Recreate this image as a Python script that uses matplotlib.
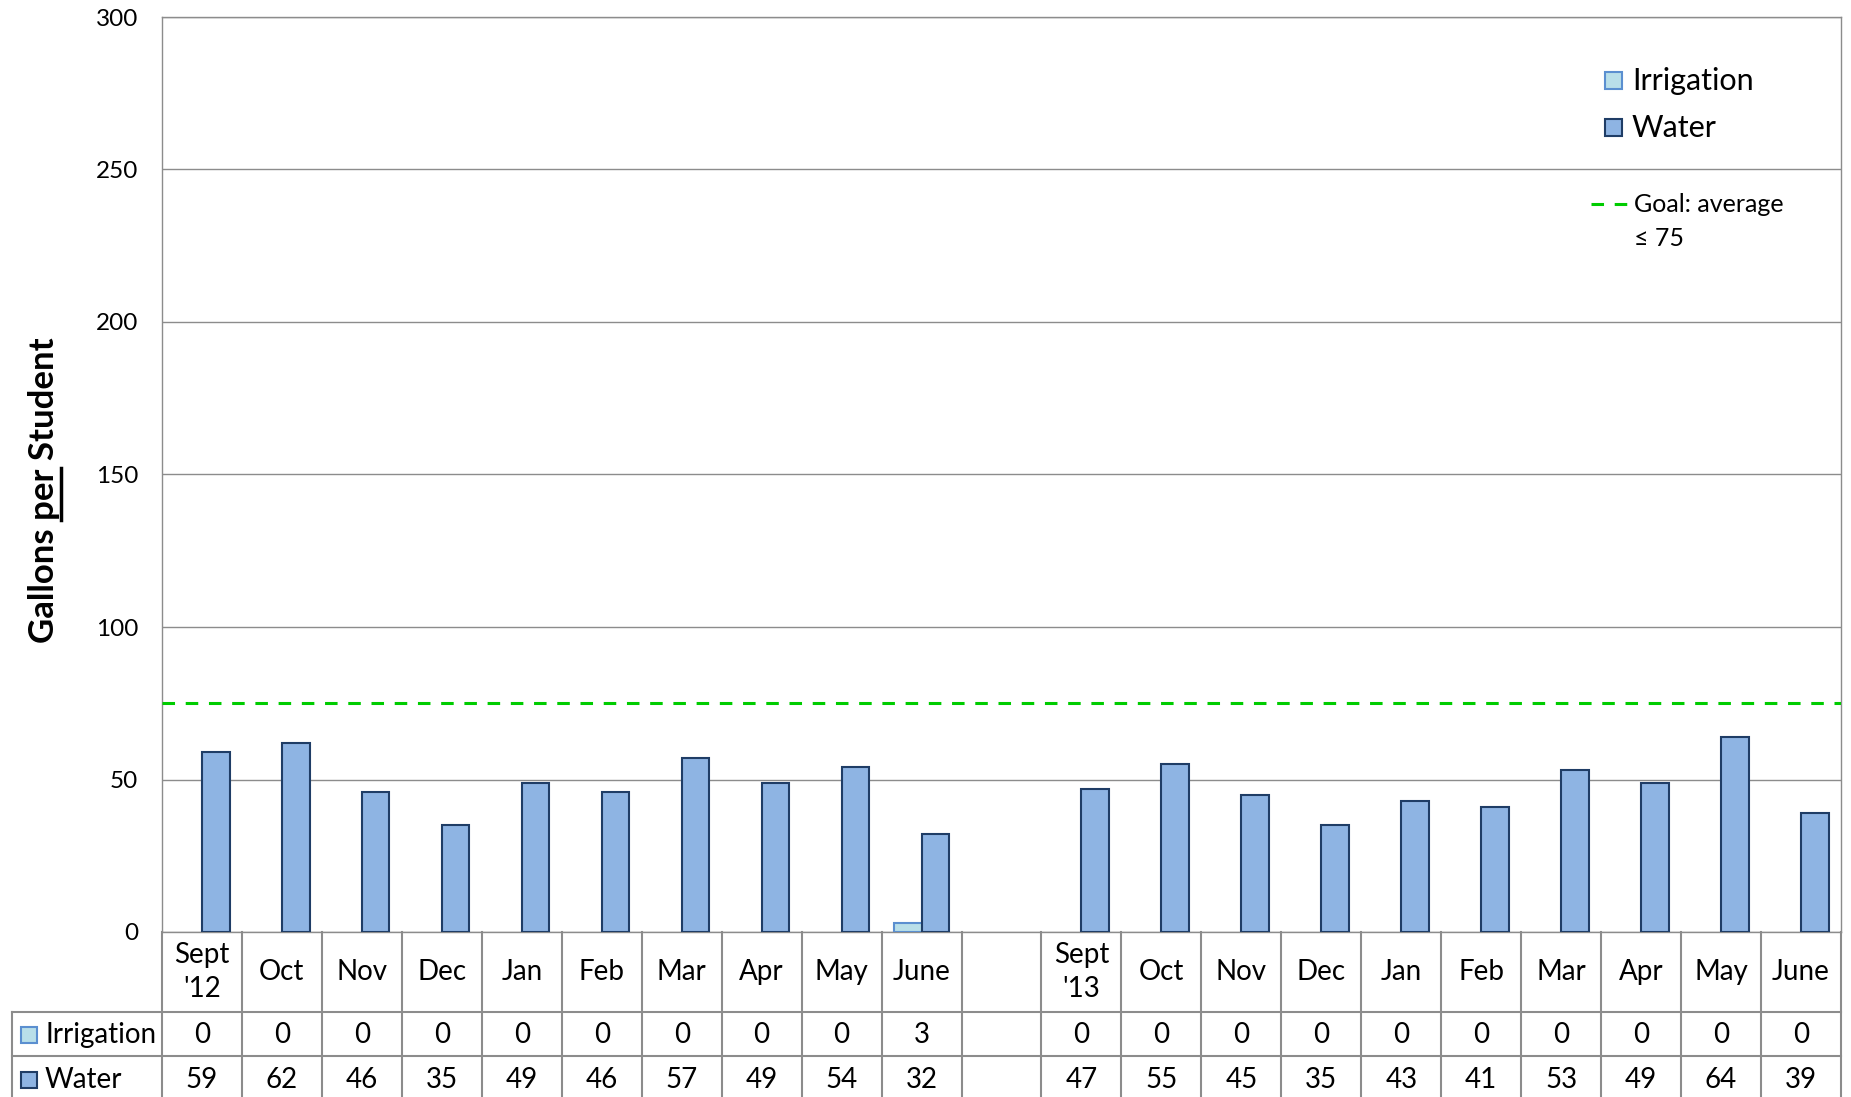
import numpy as np
import matplotlib.pyplot as plt
from matplotlib.patches import Rectangle
from matplotlib.lines import Line2D
from matplotlib.transforms import blended_transform_factory

plt.rcParams['font.family'] = ['Lato', 'DejaVu Sans']

# monthly usage, two school years with an empty column between them
months = ["Sept\n'12", 'Oct', 'Nov', 'Dec', 'Jan', 'Feb', 'Mar', 'Apr', 'May', 'June', '',
          "Sept\n'13", 'Oct', 'Nov', 'Dec', 'Jan', 'Feb', 'Mar', 'Apr', 'May', 'June']
irrigation = [0, 0, 0, 0, 0, 0, 0, 0, 0, 3, None,
              0, 0, 0, 0, 0, 0, 0, 0, 0, 0]
water = [59, 62, 46, 35, 49, 46, 57, 49, 54, 32, None,
         47, 55, 45, 35, 43, 41, 53, 49, 64, 39]
goal = 75
goal_label = 'Goal: average\n\u2264 75'
series_names = ['Irrigation', 'Water']

irr_face, irr_edge = '#b9dfe9', '#5b8fd0'
wat_face, wat_edge = '#8eb4e3', '#1f3d66'
grid_col = '#8c8c8c'
tbl_fs = 20

W, H = 1851, 1097
fig = plt.figure(figsize=(W / 100, H / 100), dpi=100)
left, right, top, bottom = 162, 1841, 17, 932
ax = fig.add_axes([left / W, 1 - bottom / H, (right - left) / W, (bottom - top) / H])

def fx(px):
    return px / W

def fy(py):
    return 1 - py / H

x = np.arange(len(months))
bw = 0.345

irr_idx = [i for i, v in enumerate(irrigation) if v]
wat_idx = [i for i, v in enumerate(water) if v is not None]
ax.bar(x[irr_idx] - bw / 2, [irrigation[i] for i in irr_idx], width=bw,
       color=irr_face, edgecolor=irr_edge, linewidth=1.5, zorder=3)
ax.bar(x[wat_idx] + bw / 2, [water[i] for i in wat_idx], width=bw,
       color=wat_face, edgecolor=wat_edge, linewidth=1.5, zorder=3)

ax.axhline(goal, color='#00cc00', lw=2.2, dashes=(4.1, 3.5), zorder=4)

ax.set_xlim(-0.5, len(months) - 0.5)
ax.set_ylim(0, 300)
ax.set_yticks(range(0, 301, 50))
ax.set_xticks([])
ax.tick_params(axis='y', length=0, pad=17, labelsize=17.5)
ax.yaxis.grid(True, color=grid_col, lw=1.0)
ax.set_axisbelow(True)
for s in ax.spines.values():
    s.set_color(grid_col)
    s.set_linewidth(1.0)

# data table under the axis
tr = blended_transform_factory(ax.transData, fig.transFigure)
tbl_left = 12
row1, row2, tbl_bot = 1012, 1056, 1100
line_kw = dict(color=grid_col, lw=1.5, clip_on=False)
for k in range(len(months) + 1):
    ax.plot([k - 0.5, k - 0.5], [fy(bottom), fy(tbl_bot)], transform=tr, **line_kw)
for yy in (row1, row2):
    fig.add_artist(Line2D([fx(tbl_left), fx(right)], [fy(yy), fy(yy)], **line_kw))
fig.add_artist(Line2D([fx(tbl_left), fx(tbl_left)], [fy(row1), fy(tbl_bot)], **line_kw))

for i, m in enumerate(months):
    ax.text(i, fy(972), m, transform=tr, ha='center', va='center',
            fontsize=tbl_fs, linespacing=1.4)
    if irrigation[i] is not None:
        ax.text(i, fy(1035), str(irrigation[i]), transform=tr, ha='center',
                va='center', fontsize=tbl_fs)
    if water[i] is not None:
        ax.text(i, fy(1080), str(water[i]), transform=tr, ha='center',
                va='center', fontsize=tbl_fs)

for name, yc, fc, ec in [(series_names[0], 1035, irr_face, irr_edge),
                         (series_names[1], 1080, wat_face, wat_edge)]:
    fig.add_artist(Rectangle((fx(21), fy(yc + 8)), 16 / W, 16 / H,
                             facecolor=fc, edgecolor=ec, lw=1.5))
    fig.text(fx(45), fy(yc), name, ha='left', va='center', fontsize=tbl_fs)

# legend in the upper right corner
for name, yc, fc, ec in [(series_names[0], 80, irr_face, irr_edge),
                         (series_names[1], 127, wat_face, wat_edge)]:
    fig.add_artist(Rectangle((fx(1605), fy(yc + 9)), 17 / W, 17 / H,
                             facecolor=fc, edgecolor=ec, lw=1.5))
    fig.text(fx(1632), fy(yc + 1), name, ha='left', va='center', fontsize=22)
fig.add_artist(Line2D([fx(1591), fx(1627)], [fy(204), fy(204)], color='#00cc00',
                      lw=2.2, dashes=(4.1, 3.5)))
fig.text(fx(1634), fy(193), goal_label, ha='left', va='top', fontsize=18,
         linespacing=1.6)

# y label with "per" underlined
ylab = 'Gallons per Student'
lab_fs = 25
lab = fig.text(fx(44), fy(490), ylab, rotation=90, ha='center', va='center',
               fontsize=lab_fs, fontweight='bold')
renderer = fig.canvas.get_renderer()
bb = lab.get_window_extent(renderer)

def text_w(s):
    t = fig.text(0, 0, s, fontsize=lab_fs, fontweight='bold')
    w = t.get_window_extent(renderer).width
    t.remove()
    return w

w_end = text_w('Gallons per')
w_start = w_end - text_w('per')
ux = bb.x1 + 1
fig.add_artist(Line2D([ux / W, ux / W], [(bb.y0 + w_start) / H, (bb.y0 + w_end) / H],
                      color='black', lw=2.5))

fig.savefig('out.png', dpi=100)
